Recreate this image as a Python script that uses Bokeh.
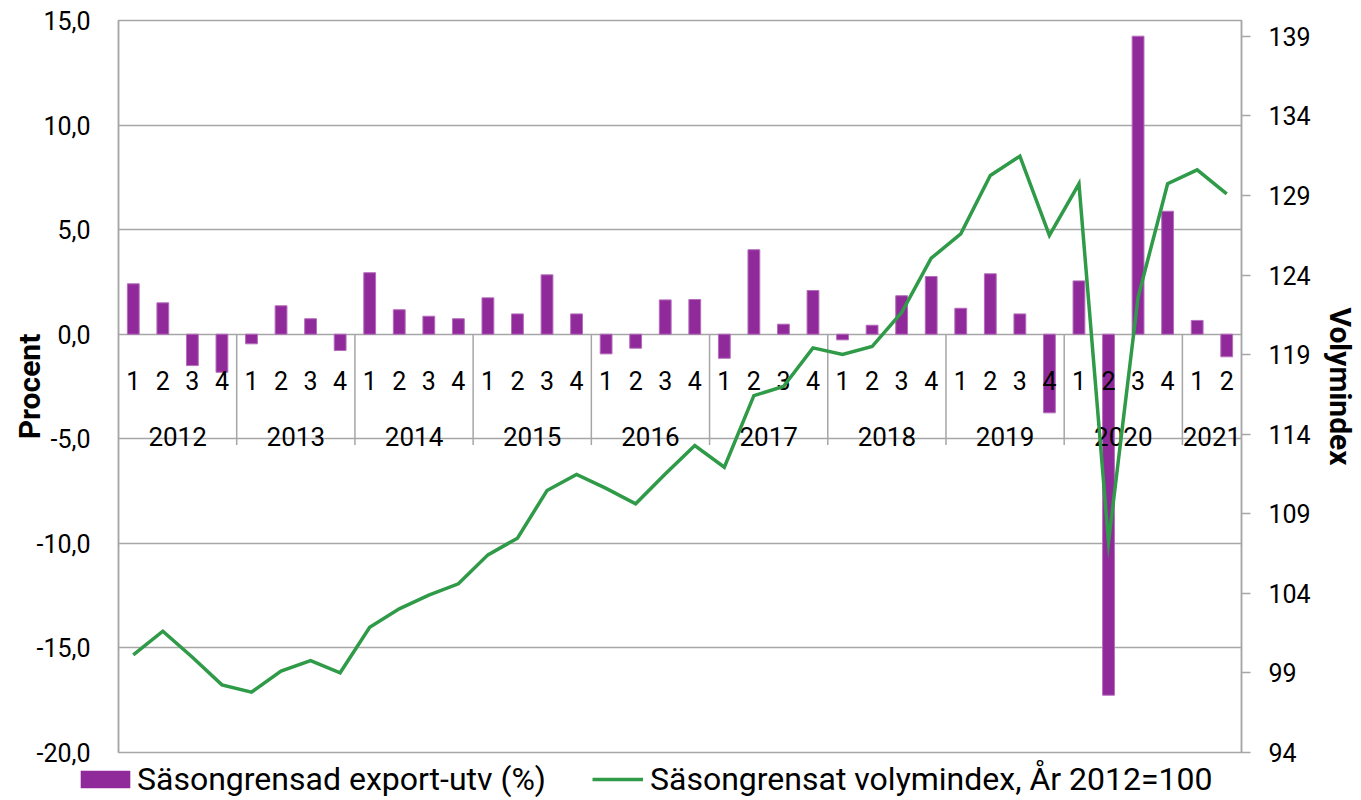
from bokeh.plotting import figure
from bokeh.models import (FactorRange, Range1d, LinearAxis, FixedTicker,
                          CustomJSTickFormatter, Legend, LegendItem, ColumnDataSource)
from bokeh.embed import file_html
from bokeh.resources import INLINE
from bokeh.core.properties import value

# ---------------- data ----------------
years = ["2012", "2013", "2014", "2015", "2016", "2017", "2018", "2019", "2020", "2021"]
quarters_per_year = [4, 4, 4, 4, 4, 4, 4, 4, 4, 2]

export_growth = [
    2.41, 1.50, -1.50, -1.82,     # 2012
    -0.46, 1.36, 0.74, -0.78,     # 2013
    2.94, 1.17, 0.86, 0.74,       # 2014
    1.74, 0.97, 2.84, 0.97,       # 2015
    -0.94, -0.67, 1.64, 1.66,     # 2016
    -1.15, 4.04, 0.48, 2.09,      # 2017
    -0.27, 0.43, 1.84, 2.76,      # 2018
    1.24, 2.89, 0.97, -3.76,      # 2019
    2.55, -17.26, 14.25, 5.88,    # 2020
    0.66, -1.08,                  # 2021
]
volume_index = [
    100.14, 101.62, 99.99, 98.25,
    97.79, 99.11, 99.78, 99.01,
    101.87, 103.03, 103.89, 104.60,
    106.42, 107.47, 110.46, 111.47,
    110.60, 109.63, 111.50, 113.29,
    111.93, 116.43, 117.00, 119.43,
    119.01, 119.51, 121.65, 125.06,
    126.59, 130.26, 131.47, 126.49,
    129.74, 107.22, 122.61, 129.74,
    130.61, 129.11,
]
left_ticks = [-20, -15, -10, -5, 0, 5, 10, 15]
right_ticks = [94, 99, 104, 109, 114, 119, 124, 129, 134, 139]

bar_label = "Säsongrensad export-utv (%)"
line_label = "Säsongrensat volymindex, År 2012=100"

factors = [(y, str(q)) for y, n in zip(years, quarters_per_year) for q in range(1, n + 1)]

# ---------------- styling ----------------
PURPLE = "#90299A"
GREEN = "#2F9A47"
GRID = "#A6A6A6"
FONT = "Roboto"
W = 1360

src = ColumnDataSource(dict(x=factors, growth=export_growth, vol=volume_index,
                            q=[f[1] for f in factors]))

p = figure(x_range=FactorRange(*factors, factor_padding=0, group_padding=0, range_padding=0),
           y_range=Range1d(-20, 15),
           width=W, height=770,
           min_border_left=118, min_border_right=118, min_border_top=20, min_border_bottom=18,
           x_axis_location=None, y_axis_location=None,
           toolbar_location=None, output_backend="svg")
p.extra_y_ranges = {"vol": Range1d(94, 140)}
p.outline_line_color = GRID
p.outline_line_width = 1.5
p.background_fill_color = "white"
p.border_fill_color = "white"

# left axis
la = LinearAxis(ticker=FixedTicker(ticks=left_ticks),
                formatter=CustomJSTickFormatter(code="return tick.toFixed(1).replace('.', ',');"),
                axis_label="Procent")
la.major_tick_out = 0
la.major_tick_in = 0
la.minor_tick_out = 0
la.minor_tick_in = 0
la.major_label_standoff = 28
la.axis_line_color = GRID
la.axis_line_width = 1.5
la.major_label_text_font = FONT
la.major_label_text_font_size = "25px"
la.major_label_text_color = "black"
la.axis_label_text_font = FONT
la.axis_label_text_font_style = "bold"
la.axis_label_text_font_size = "30px"
la.axis_label_text_color = "black"
la.axis_label_standoff = -13
p.add_layout(la, "left")

# right axis
ra = LinearAxis(y_range_name="vol", ticker=FixedTicker(ticks=right_ticks), axis_label="Volymindex")
ra.major_tick_out = 9
ra.major_tick_in = 0
ra.minor_tick_out = 0
ra.minor_tick_in = 0
ra.major_tick_line_color = GRID
ra.major_tick_line_width = 1.5
ra.major_label_standoff = 18
ra.axis_line_color = GRID
ra.axis_line_width = 1.5
ra.major_label_text_font = FONT
ra.major_label_text_font_size = "25px"
ra.major_label_text_color = "black"
ra.axis_label_text_font = FONT
ra.axis_label_text_font_style = "bold"
ra.axis_label_text_font_size = "30px"
ra.axis_label_text_color = "black"
ra.axis_label_standoff = 9
p.add_layout(ra, "right")

# grid
p.ygrid.ticker = FixedTicker(ticks=left_ticks)
p.ygrid.grid_line_color = GRID
p.ygrid.grid_line_width = 1.5
p.xgrid.grid_line_color = None

# bars
bars = p.vbar(x="x", top="growth", bottom=0, width=0.4, source=src,
              fill_color=PURPLE, line_color="#B46EBB", line_width=1)

# year separators in the category axis (at y = 0)
sep_x = [[y, "1", -0.5] for y in years[1:]]
p.segment(x0=sep_x, y0=0, x1=sep_x, y1=-5.3, line_color=GRID, line_width=1.5)

# quarter and year labels
p.text(x="x", y=-2.19, text="q", source=src, text_align="center", text_baseline="alphabetic",
       text_font=value(FONT), text_font_size="25px", text_color="black")
p.text(x=years, y=[-4.89] * len(years), text=years, text_align="center",
       text_baseline="alphabetic", text_font=value(FONT), text_font_size="26px",
       text_color="black")

# line
line = p.line(x="x", y="vol", source=src, y_range_name="vol", line_color=GREEN,
              line_width=3.5, line_join="miter")

# ---------------- legend strip below the plot (separate root, transparent, overlapping) ----------------
lf = figure(width=W, height=45, x_range=Range1d(0, 1), y_range=Range1d(0, 1),
            min_border_left=0, min_border_right=0, min_border_top=0, min_border_bottom=0,
            x_axis_location=None, y_axis_location=None,
            toolbar_location=None, output_backend="svg",
            styles={"margin-top": "-15px"})
lf.outline_line_color = None
lf.grid.grid_line_color = None
lf.background_fill_alpha = 0
lf.border_fill_alpha = 0

# zero-size key glyphs: only their legend swatches are seen
key_bar = lf.vbar(x=[0], top=[0], bottom=[0], width=0, fill_color=PURPLE, line_color=None)
key_line = lf.line(x=[0, 0], y=[0, 0], line_color=GREEN, line_width=3.5)


def make_legend(label, rend, loc, gw, gh, standoff):
    lg = Legend(items=[LegendItem(label=label, renderers=[rend])], location=loc,
                orientation="horizontal")
    lg.label_text_font = FONT
    lg.label_text_font_size = "32px"
    lg.label_text_color = "black"
    lg.glyph_width = gw
    lg.glyph_height = gh
    lg.label_standoff = standoff
    lg.padding = 0
    lg.margin = 0
    lg.spacing = 0
    lg.border_line_color = None
    lg.background_fill_alpha = 0
    return lg


lf.add_layout(make_legend(bar_label, key_bar, (74, 2), 62, 22, 1))
lf.add_layout(make_legend(line_label, key_line, (592, 2), 51, 18, 7))

open("out.html", "w").write(file_html([p, lf], INLINE))
